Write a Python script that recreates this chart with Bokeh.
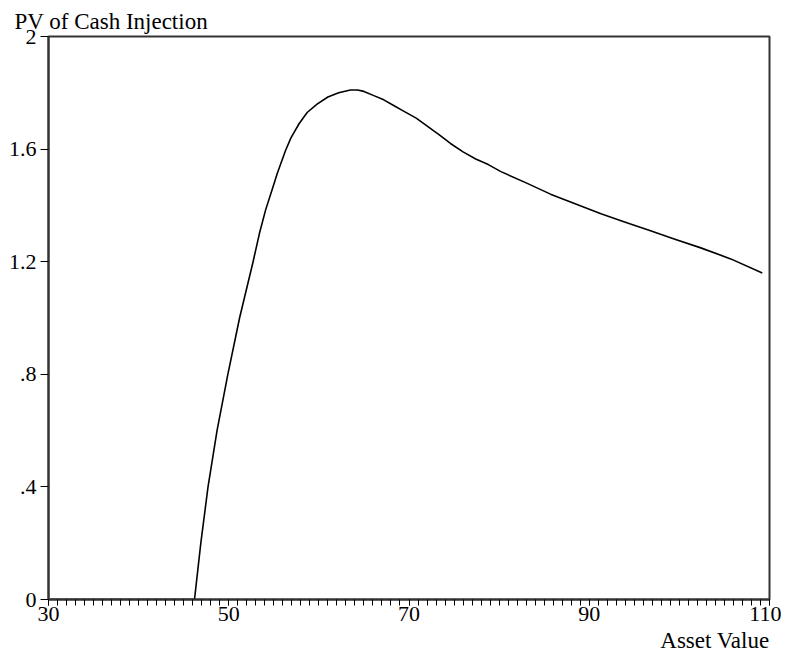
from bokeh.plotting import figure
from bokeh.models import Range1d, FixedTicker, Title
from bokeh.embed import file_html
from bokeh.resources import INLINE

# Data
asset_value = [30, 46.2, 46.9, 47.7, 48.7, 49.9, 51.2, 52.7, 53.4, 54.1, 54.8, 55.4,
               56.3, 56.9, 57.8, 58.7, 59.8, 61.0, 62.2, 63.5, 64.3, 65.0, 66.1,
               67.2, 68.3, 69.4, 70.8, 72.1, 73.4, 74.6, 76.0, 77.4, 78.8, 80.2,
               83.0, 85.7, 88.5, 91.3, 94.0, 96.8, 99.5, 102.3, 105.7, 109.2]
pv_cash_injection = [0, 0, 0.20, 0.40, 0.60, 0.80, 1.00, 1.20, 1.30, 1.385, 1.455, 1.515,
                     1.595, 1.64, 1.69, 1.73, 1.76, 1.785, 1.80, 1.81, 1.81, 1.805, 1.79,
                     1.775, 1.755, 1.735, 1.71, 1.68, 1.65, 1.62, 1.59, 1.565, 1.545, 1.52,
                     1.48, 1.44, 1.405, 1.37, 1.34, 1.31, 1.28, 1.25, 1.21, 1.16]

x_major_ticks = [30, 50, 70, 90, 110]
x_minor_ticks = list(range(30, 111))
y_ticks = [0, 0.4, 0.8, 1.2, 1.6, 2]
y_tick_labels = {0: "0", 0.4: ".4", 0.8: ".8", 1.2: "1.2", 1.6: "1.6", 2: "2"}

FONT = "Liberation Serif"

p = figure(width=781, height=655, output_backend="svg", toolbar_location=None,
           x_range=Range1d(30, 110), y_range=Range1d(0, 2),
           min_border_left=48, min_border_right=12, min_border_top=36, min_border_bottom=56)

p.title.text = "PV of Cash Injection"
p.title.align = "left"
p.title.offset = -34
p.title.text_font = FONT
p.title.text_font_size = "23px"
p.title.text_font_style = "normal"
p.title.text_color = "black"
p.title.standoff = 6

p.add_layout(Title(text="Asset Value", align="right", text_font=FONT,
                   text_font_size="23px", text_font_style="normal",
                   text_color="black", offset=0, standoff=4), "below")

p.line(asset_value, pv_cash_injection, line_color="black", line_width=1.6,
       line_join="round")

p.xgrid.visible = False
p.ygrid.visible = False
p.outline_line_color = "#333333"
p.outline_line_width = 2

p.xaxis.ticker = FixedTicker(ticks=x_major_ticks, minor_ticks=x_minor_ticks)
p.xaxis.major_tick_in = 0
p.xaxis.major_tick_out = 6
p.xaxis.minor_tick_in = 0
p.xaxis.minor_tick_out = 6
p.xaxis.major_label_standoff = 1

p.yaxis.ticker = FixedTicker(ticks=y_ticks)
p.yaxis.major_label_overrides = y_tick_labels
p.yaxis.major_tick_in = 0
p.yaxis.major_tick_out = 8
p.yaxis.major_label_standoff = 4

for ax in (p.xaxis, p.yaxis):
    ax.axis_line_color = "#333333"
    ax.axis_line_width = 2
    ax.major_tick_line_color = "black"
    ax.minor_tick_line_color = "black"
    ax.major_label_text_font = FONT
    ax.major_label_text_font_size = "22px"
    ax.major_label_text_color = "black"
p.yaxis.minor_tick_line_color = None

p.background_fill_color = "white"
p.border_fill_color = "white"

open("out.html", "w").write(file_html(p, INLINE))
